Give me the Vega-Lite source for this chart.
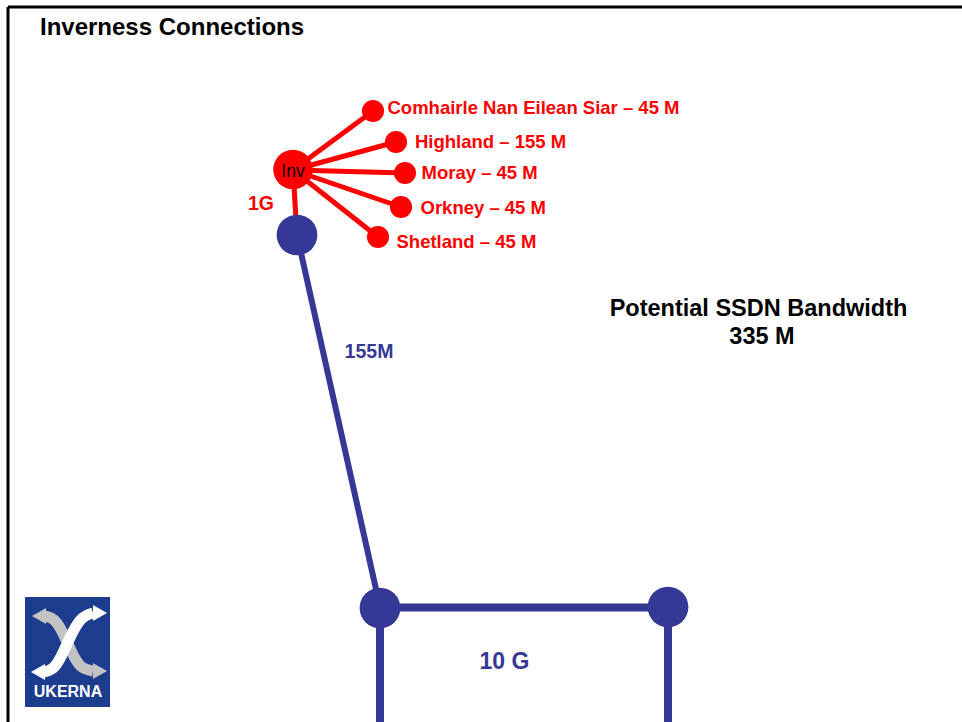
{
  "$schema": "https://vega.github.io/schema/vega-lite/v6.json",
  "width": 962,
  "height": 722,
  "padding": 0,
  "autosize": {"type": "none"},
  "background": "white",
  "config": {"view": {"stroke": null}, "font": "Liberation Sans"},
  "datasets": {
    "border": [
      {"x": 8, "y": 7, "x2": 962, "y2": 7},
      {"x": 8, "y": 7, "x2": 8, "y2": 722}
    ],
    "redEdges": [
      {"x": 293, "y": 170, "x2": 373, "y2": 111},
      {"x": 293, "y": 170, "x2": 396, "y2": 142},
      {"x": 293, "y": 170, "x2": 405, "y2": 173},
      {"x": 293, "y": 170, "x2": 401, "y2": 207},
      {"x": 293, "y": 170, "x2": 378, "y2": 237},
      {"x": 293, "y": 170, "x2": 297, "y2": 235}
    ],
    "blueEdges": [
      {"x": 297, "y": 235, "x2": 380, "y2": 607, "w": "thin"},
      {"x": 380, "y": 607.5, "x2": 668, "y2": 607.5, "w": "thick"},
      {"x": 380, "y": 607, "x2": 380, "y2": 730, "w": "thick"},
      {"x": 668, "y": 607, "x2": 668, "y2": 730, "w": "thick"}
    ],
    "blueNodes": [
      {"x": 297, "y": 235},
      {"x": 380, "y": 608},
      {"x": 668, "y": 607}
    ],
    "leaves": [
      {"x": 373, "y": 111, "label": "Comhairle Nan Eilean Siar – 45 M", "lx": 387.5, "ly": 114},
      {"x": 396, "y": 142, "label": "Highland – 155 M", "lx": 415, "ly": 148},
      {"x": 405, "y": 173, "label": "Moray – 45 M", "lx": 421.5, "ly": 179.3},
      {"x": 401, "y": 207, "label": "Orkney – 45 M", "lx": 420.5, "ly": 213.5},
      {"x": 378, "y": 237, "label": "Shetland – 45 M", "lx": 396.5, "ly": 247.5}
    ],
    "logoArrows": [
      {"x": 45, "y": 616, "c": "g", "i": 1},
      {"x": 54, "y": 618, "c": "g", "i": 2},
      {"x": 62, "y": 630, "c": "g", "i": 3},
      {"x": 74, "y": 658, "c": "g", "i": 4},
      {"x": 82, "y": 669, "c": "g", "i": 5},
      {"x": 93, "y": 671, "c": "g", "i": 6},
      {"x": 44, "y": 672, "c": "w", "i": 1},
      {"x": 53, "y": 670, "c": "w", "i": 2},
      {"x": 61, "y": 658, "c": "w", "i": 3},
      {"x": 74, "y": 628, "c": "w", "i": 4},
      {"x": 83, "y": 616, "c": "w", "i": 5},
      {"x": 93, "y": 613, "c": "w", "i": 6}
    ],
    "logoHeads": [
      {"x": 39, "y": 616, "c": "g", "s": "l"},
      {"x": 100, "y": 671, "c": "g", "s": "r"},
      {"x": 100, "y": 613, "c": "w", "s": "r"},
      {"x": 38, "y": 672, "c": "w", "s": "l"}
    ]
  },
  "encoding": {
    "x": {"field": "x", "type": "quantitative", "scale": {"domain": [0, 962], "nice": false, "zero": false}, "axis": null},
    "y": {"field": "y", "type": "quantitative", "scale": {"domain": [0, 722], "nice": false, "zero": false, "reverse": true}, "axis": null}
  },
  "layer": [
    {
      "data": {"name": "border"},
      "mark": {"type": "rule", "stroke": "black", "strokeWidth": 3, "clip": false},
      "encoding": {"x2": {"field": "x2"}, "y2": {"field": "y2"}}
    },
    {
      "data": {"name": "redEdges"},
      "mark": {"type": "rule", "stroke": "#ff0000", "strokeWidth": 5},
      "encoding": {"x2": {"field": "x2"}, "y2": {"field": "y2"}}
    },
    {
      "data": {"name": "blueEdges"},
      "mark": {"type": "rule", "stroke": "#363896"},
      "encoding": {
        "x2": {"field": "x2"}, "y2": {"field": "y2"},
        "strokeWidth": {"field": "w", "type": "nominal", "scale": {"domain": ["thin", "thick"], "range": [6, 8]}, "legend": null}
      }
    },
    {
      "data": {"name": "blueNodes"},
      "mark": {"type": "circle", "color": "#363896", "opacity": 1, "size": 1660}
    },
    {
      "data": {"values": [{"x": 293, "y": 169.5, "label": "Inv"}]},
      "mark": {"type": "circle", "color": "#ff0000", "opacity": 1, "size": 1560}
    },
    {
      "data": {"values": [{"x": 293, "y": 177, "label": "Inv"}]},
      "mark": {"type": "text", "fontSize": 17.5, "color": "black", "align": "center", "baseline": "alphabetic"},
      "encoding": {"text": {"field": "label"}}
    },
    {
      "data": {"name": "leaves"},
      "mark": {"type": "circle", "color": "#ff0000", "opacity": 1, "size": 490}
    },
    {
      "data": {"name": "leaves"},
      "mark": {"type": "text", "fontSize": 18.5, "fontWeight": "bold", "color": "#ff0000", "align": "left", "baseline": "alphabetic"},
      "encoding": {
        "x": {"field": "lx", "type": "quantitative"},
        "y": {"field": "ly", "type": "quantitative"},
        "text": {"field": "label"}
      }
    },
    {
      "data": {"values": [{"x": 261, "y": 210, "label": "1G"}]},
      "mark": {"type": "text", "fontSize": 19.5, "fontWeight": "bold", "color": "#ff0000", "align": "center", "baseline": "alphabetic"},
      "encoding": {"text": {"field": "label"}}
    },
    {
      "data": {"values": [{"x": 369, "y": 358, "label": "155M"}]},
      "mark": {"type": "text", "fontSize": 19.5, "fontWeight": "bold", "color": "#363896", "align": "center", "baseline": "alphabetic"},
      "encoding": {"text": {"field": "label"}}
    },
    {
      "data": {"values": [{"x": 504.5, "y": 669, "label": "10 G"}]},
      "mark": {"type": "text", "fontSize": 23, "fontWeight": "bold", "color": "#363896", "align": "center", "baseline": "alphabetic"},
      "encoding": {"text": {"field": "label"}}
    },
    {
      "data": {"values": [{"x": 758.5, "y": 315.5, "label": "Potential SSDN Bandwidth"}, {"x": 762, "y": 343.5, "label": "335 M"}]},
      "mark": {"type": "text", "fontSize": 23.5, "fontWeight": "bold", "color": "black", "align": "center", "baseline": "alphabetic"},
      "encoding": {"text": {"field": "label"}}
    },
    {
      "data": {"values": [{"x": 40, "y": 35, "label": "Inverness Connections"}]},
      "mark": {"type": "text", "fontSize": 24, "fontWeight": "bold", "color": "black", "align": "left", "baseline": "alphabetic"},
      "encoding": {"text": {"field": "label"}}
    },
    {
      "data": {"values": [{"x": 25, "y": 597, "x2": 110, "y2": 707}]},
      "mark": {"type": "rect", "color": "#1c3c8e"},
      "encoding": {"x2": {"field": "x2"}, "y2": {"field": "y2"}}
    },
    {
      "data": {"name": "logoArrows"},
      "mark": {"type": "line", "interpolate": "basis", "strokeWidth": 11, "strokeCap": "butt"},
      "encoding": {
        "order": {"field": "i", "type": "quantitative"},
        "detail": {"field": "c", "type": "nominal"},
        "color": {"field": "c", "type": "nominal", "scale": {"domain": ["g", "w"], "range": ["#c2c2c2", "#ffffff"]}, "legend": null}
      }
    },
    {
      "data": {"name": "logoHeads"},
      "mark": {"type": "point", "filled": true, "opacity": 1, "size": 260},
      "encoding": {
        "shape": {"field": "s", "type": "nominal", "scale": {"domain": ["l", "r"], "range": ["triangle-left", "triangle-right"]}, "legend": null},
        "color": {"field": "c", "type": "nominal", "scale": {"domain": ["g", "w"], "range": ["#c2c2c2", "#ffffff"]}, "legend": null}
      }
    },
    {
      "data": {"values": [{"x": 68, "y": 697, "label": "UKERNA"}]},
      "mark": {"type": "text", "fontSize": 16, "fontWeight": "bold", "color": "white", "align": "center", "baseline": "alphabetic"},
      "encoding": {"text": {"field": "label"}}
    }
  ]
}
